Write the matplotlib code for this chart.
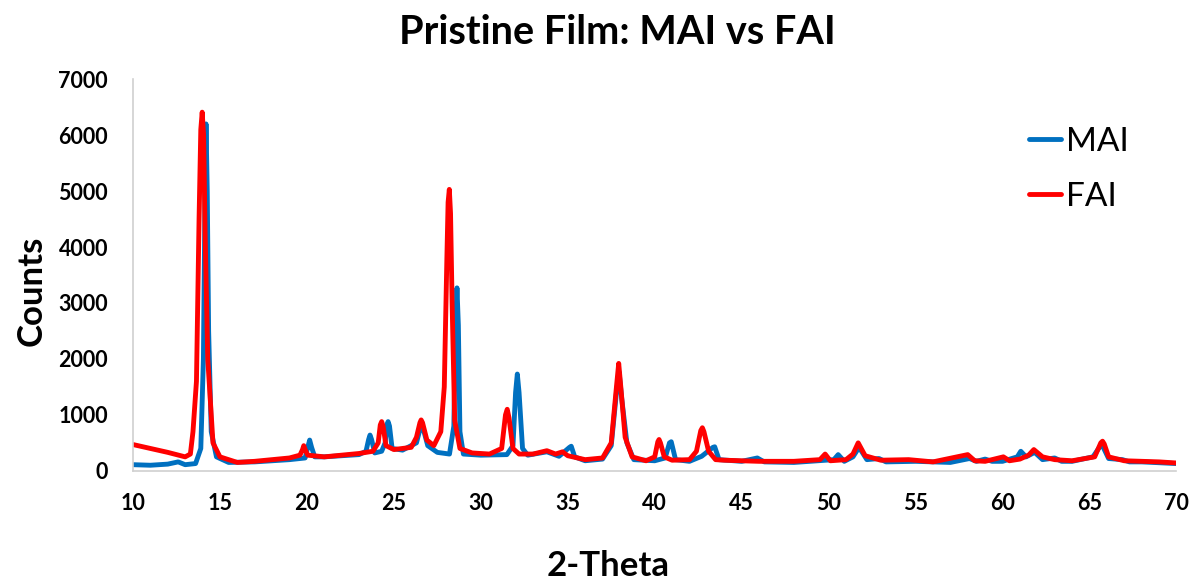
import matplotlib
matplotlib.use("Agg")
import matplotlib.pyplot as plt

# 2-theta positions (deg) and counts for the MAI-based film
mai_theta = [10.0, 11.0, 12.0, 12.6, 13.0, 13.6, 13.9, 14.05, 14.15, 14.2, 14.27, 14.35, 14.5,
             14.8, 15.5, 17.0, 19.0, 19.9, 20.05, 20.16, 20.27, 20.45, 21.0, 23.0, 23.4,
             23.55, 23.63, 23.72, 23.9, 24.3, 24.5, 24.6, 24.67, 24.75, 24.9, 25.5, 26.3,
             26.5, 26.6, 26.7, 26.95, 27.5, 28.2, 28.45, 28.55, 28.63, 28.71, 28.8, 29.0,
             30.0, 31.5, 31.85, 32.0, 32.1, 32.2, 32.4, 32.7, 33.8, 34.5, 35.1, 35.2, 35.4,
             36.0, 37.0, 37.5, 37.8, 37.95, 38.1, 38.4, 38.8, 40.0, 40.6, 40.85, 40.95, 41.2,
             42.0, 42.7, 43.35, 43.45, 43.7, 45.0, 45.9, 46.3, 48.0, 50.3, 50.55, 50.9, 51.4,
             51.75, 52.2, 52.9, 53.3, 55.0, 57.0, 58.1, 58.5, 59.0, 59.4, 60.0, 60.85, 61.05,
             61.35, 61.85, 62.3, 63.0, 63.4, 64.0, 65.2, 65.7, 66.1, 66.9, 67.3, 68.0, 70.0]
mai_counts = [110, 100, 120, 160, 110, 130, 400, 2000, 5200, 6200, 5000, 2500, 700,
              250, 150, 160, 200, 230, 420, 550, 420, 250, 250, 290, 350,
              560, 640, 560, 320, 350, 500, 820, 880, 800, 400, 370, 500,
              740, 820, 740, 450, 330, 300, 800, 2600, 3270, 2600, 700, 300,
              280, 290, 450, 1400, 1730, 1400, 400, 280, 340, 260, 420, 440, 250,
              180, 210, 450, 1400, 1770, 1300, 500, 200, 180, 230, 500, 520, 200,
              170, 260, 420, 430, 200, 170, 230, 160, 150, 200, 290, 170, 250,
              420, 200, 220, 160, 170, 150, 220, 170, 210, 170, 170, 250, 350,
              250, 330, 200, 230, 170, 170, 250, 480, 220, 200, 160, 160, 130]

# 2-theta positions (deg) and counts for the FAI-based film
fai_theta = [10.0, 11.0, 12.0, 13.0, 13.3, 13.45, 13.65, 13.8, 13.9, 13.98, 14.06, 14.15,
             14.3, 14.6, 15.0, 16.0, 17.0, 18.0, 19.0, 19.6, 19.75, 19.82, 19.9, 20.05,
             21.0, 22.0, 23.0, 23.8, 24.1, 24.22, 24.3, 24.38, 24.55, 25.0, 26.0, 26.3,
             26.5, 26.57, 26.65, 26.9, 27.3, 27.7, 27.9, 28.05, 28.12, 28.19, 28.26, 28.35,
             28.5, 28.8, 29.5, 30.5, 31.2, 31.42, 31.52, 31.62, 31.85, 32.2, 33.0, 33.8,
             34.3, 34.7, 35.0, 36.0, 37.0, 37.5, 37.8, 37.93, 38.05, 38.3, 38.7, 39.5,
             40.0, 40.18, 40.25, 40.33, 40.55, 41.0, 42.0, 42.4, 42.65, 42.74, 42.83, 43.1,
             43.5, 44.0, 46.0, 48.0, 49.5, 49.8, 50.1, 51.0, 51.4, 51.7, 52.1, 53.0,
             54.6, 56.0, 58.0, 58.4, 59.0, 60.05, 60.4, 61.0, 61.5, 61.8, 62.3, 63.0,
             64.0, 65.3, 65.65, 65.75, 65.85, 66.1, 67.0, 69.0, 70.0]
fai_counts = [470, 400, 330, 250, 300, 700, 1600, 4500, 6100, 6410, 6000, 4200,
              2000, 500, 250, 150, 170, 200, 230, 280, 380, 450, 380, 280,
              250, 280, 310, 350, 500, 820, 880, 800, 450, 380, 420, 600,
              860, 910, 860, 550, 450, 700, 1500, 3800, 4800, 5030, 4600, 3000,
              900, 400, 320, 300, 400, 1000, 1100, 950, 400, 300, 300, 360,
              300, 340, 270, 200, 230, 500, 1500, 1920, 1500, 600, 250, 180,
              250, 520, 560, 500, 250, 190, 200, 350, 720, 770, 700, 350,
              200, 190, 170, 170, 200, 300, 180, 200, 300, 500, 270, 190,
              200, 160, 290, 180, 170, 250, 180, 210, 280, 380, 250, 200,
              180, 250, 500, 530, 480, 250, 180, 160, 140]

series_labels = ["MAI", "FAI"]
series_colors = ["#0070C0", "#FF0000"]
x_ticks = list(range(10, 71, 5))
y_ticks = list(range(0, 7001, 1000))

font = "Lato"

fig = plt.figure(figsize=(11.98, 5.82), dpi=100)
ax = fig.add_axes([0.111, 0.191, 0.871, 0.673])

ax.plot(mai_theta, mai_counts, color=series_colors[0], lw=3.5,
        solid_joinstyle="round", solid_capstyle="round", label=series_labels[0])
ax.plot(fai_theta, fai_counts, color=series_colors[1], lw=3.5,
        solid_joinstyle="round", solid_capstyle="round", label=series_labels[1])

ax.set_xlim(10, 70)
ax.set_ylim(0, 7000)
ax.set_xticks(x_ticks)
ax.set_yticks(y_ticks)
ax.set_xticklabels([str(v) for v in x_ticks], fontfamily=font, fontweight="bold", fontsize=15.5)
ax.set_yticklabels([str(v) for v in y_ticks], fontfamily=font, fontweight="bold", fontsize=15.5)
ax.tick_params(axis="both", length=0)
ax.tick_params(axis="x", pad=16)
ax.tick_params(axis="y", pad=18)

for side in ("top", "right"):
    ax.spines[side].set_visible(False)
for side in ("left", "bottom"):
    ax.spines[side].set_color("#D0D0D0")
    ax.spines[side].set_linewidth(1.2)

fig.text(0.515, 0.945, "Pristine Film: MAI vs FAI", ha="center", va="center",
         fontfamily=font, fontweight="bold", fontsize=28.5)
fig.text(0.026, 0.50, "Counts", ha="center", va="center", rotation=90,
         fontfamily=font, fontweight="bold", fontsize=25)
fig.text(0.508, 0.028, "2-Theta", ha="center", va="center",
         fontfamily=font, fontweight="bold", fontsize=25)

leg = ax.legend(loc="upper left", bbox_to_anchor=(0.83, 0.955), frameon=False,
                handlelength=0.95, handletextpad=0.15, labelspacing=0.75,
                prop={"family": font, "size": 24})
for line in leg.get_lines():
    line.set_linewidth(3.5)

fig.savefig("out.png", dpi=100)
